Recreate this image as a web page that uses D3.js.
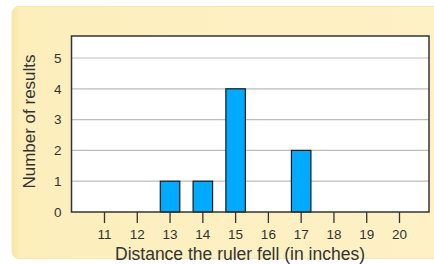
<!DOCTYPE html>
<html><head><meta charset="utf-8">
<script src="https://cdn.jsdelivr.net/npm/d3@7/dist/d3.min.js"></script>
<style>html,body{margin:0;padding:0;background:#fff;}svg{display:block;font-family:"Liberation Sans",Arial,sans-serif;}</style>
</head><body>
<script>
const categories = [11,12,13,14,15,16,17,18,19,20];
const values = [0,0,1,1,4,0,2,0,0,0];
const yTicks = [0,1,2,3,4,5];
const xTitle = "Distance the ruler fell (in inches)";
const yTitle = "Number of results";

const W = 434, H = 264;
const svg = d3.select("body").append("svg").attr("width", W).attr("height", H);

const defs = svg.append("defs");
const g1 = defs.append("linearGradient").attr("id","pg").attr("x1","0").attr("x2","1").attr("y1","0").attr("y2","0");
g1.append("stop").attr("offset","0").attr("stop-color","#f8e6a6");
g1.append("stop").attr("offset","0.02").attr("stop-color","#fdeebc");
g1.append("stop").attr("offset","1").attr("stop-color","#fef1c6");

svg.append("rect").attr("x",12).attr("y",6.5).attr("width",440).attr("height",252)
  .attr("rx",7).attr("fill","url(#pg)").attr("stroke","#f6e7b0").attr("stroke-width",1);

const plot = {l:71.5, r:429, t:36, b:212};
const x = d3.scaleLinear().domain([11,20]).range([104,399]);
const y = d3.scaleLinear().domain([0,5]).range([plot.b, 58]);

svg.append("rect").attr("x",plot.l).attr("y",plot.t).attr("width",plot.r-plot.l).attr("height",plot.b-plot.t).attr("fill","#fff");

// grid
svg.append("g").selectAll("line").data(yTicks.filter(d=>d>0)).join("line")
  .attr("x1",plot.l).attr("x2",plot.r).attr("y1",d=>y(d)).attr("y2",d=>y(d))
  .attr("stroke","#bdbdbd").attr("stroke-width",1.2);

// bars
const bw = 19.5;
svg.append("g").selectAll("rect").data(categories.map((c,i)=>({c,v:values[i]})).filter(d=>d.v>0)).join("rect")
  .attr("x",d=>x(d.c)-bw/2+0.5).attr("y",d=>y(d.v)).attr("width",bw).attr("height",d=>y(0)-y(d.v))
  .attr("fill","#00aaff").attr("stroke","#1a1a1a").attr("stroke-width",1.2);

// border
svg.append("rect").attr("x",plot.l).attr("y",plot.t).attr("width",plot.r-plot.l).attr("height",plot.b-plot.t)
  .attr("fill","none").attr("stroke","#333").attr("stroke-width",1.5);

// x axis
const xa = svg.append("g").attr("transform",`translate(0,${plot.b})`)
  .call(d3.axisBottom(x).tickValues(categories).tickSize(11).tickPadding(6).tickFormat(d3.format("d")));
xa.attr("font-size",null).attr("font-family",null);
xa.select(".domain").remove();
xa.selectAll(".tick line").attr("stroke","#333").attr("stroke-width",1.3);
xa.selectAll(".tick text").style("font-size","13.5px").attr("fill","#333");

// y axis labels
const ya = svg.append("g").attr("transform",`translate(${plot.l},0)`)
  .call(d3.axisLeft(y).tickValues(yTicks).tickSize(0).tickPadding(10).tickFormat(d3.format("d")));
ya.attr("font-size",null).attr("font-family",null);
ya.select(".domain").remove();
ya.selectAll(".tick text").style("font-size","13.5px").attr("fill","#333");

svg.append("text").attr("x",240).attr("y",259.5).attr("text-anchor","middle")
  .style("font-size","17.5px").attr("fill","#333").text(xTitle);
svg.append("text").attr("transform","translate(35,121.5) rotate(-90)").attr("text-anchor","middle")
  .style("font-size","17px").attr("fill","#333").text(yTitle);
</script>
</body></html>
